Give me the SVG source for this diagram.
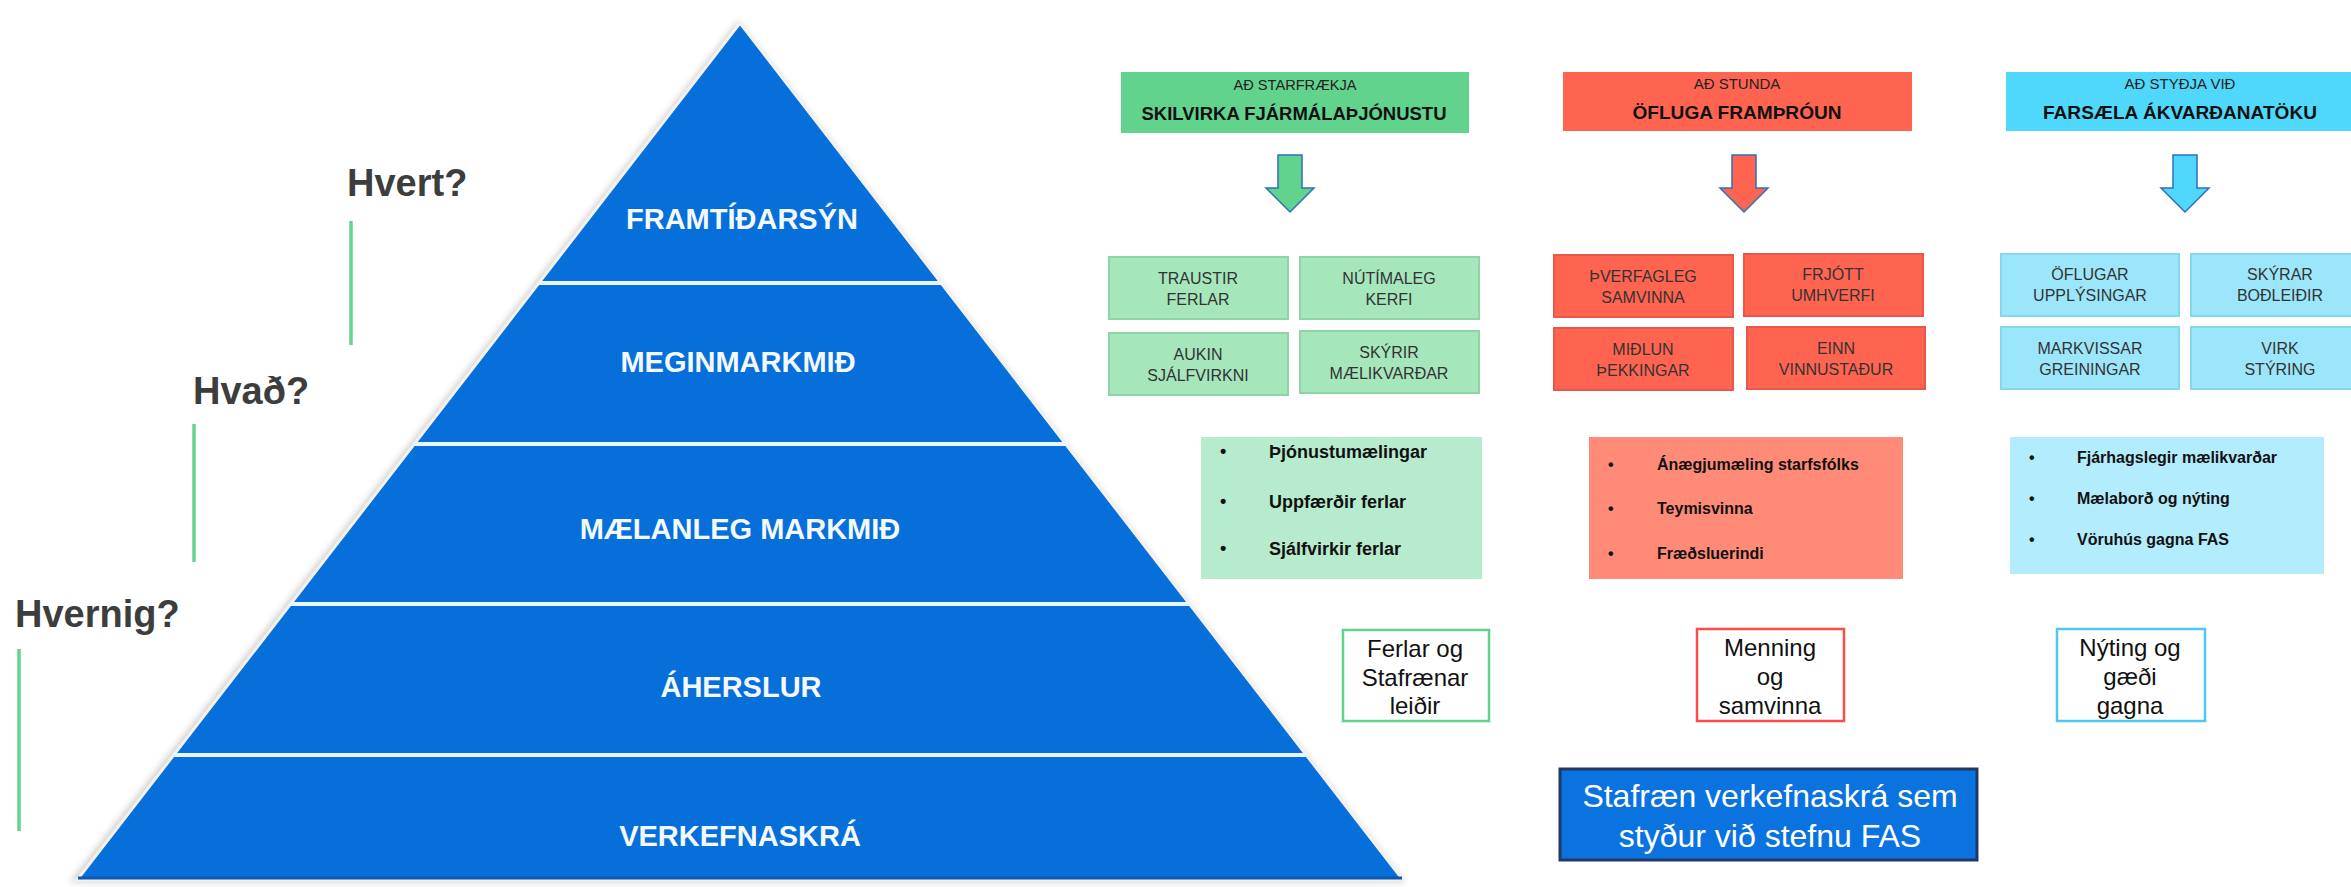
<svg xmlns="http://www.w3.org/2000/svg" width="2351" height="887" viewBox="0 0 2351 887">
<defs>
<style>
.pt{font-family:"Liberation Sans",Arial,sans-serif;font-weight:bold;font-size:29px;fill:#f4f8ff;text-anchor:middle}
.q{font-family:"Liberation Sans",Arial,sans-serif;font-weight:bold;font-size:38px;fill:#3d3d3d}
.ql{stroke:#66d48f;stroke-width:3.5}
.hs{font-family:"Liberation Sans",Arial,sans-serif;font-size:15px;fill:#222;text-anchor:middle}
.hb{font-family:"Liberation Sans",Arial,sans-serif;font-weight:bold;font-size:19px;fill:#111;text-anchor:middle}
.bt{font-family:"Liberation Sans",Arial,sans-serif;font-size:16px;fill:#333;text-anchor:middle}
.bl{font-family:"Liberation Sans",Arial,sans-serif;font-weight:bold;fill:#111}
.ot{font-family:"Liberation Sans",Arial,sans-serif;font-size:24px;fill:#111;text-anchor:middle}
.wt{font-family:"Liberation Sans",Arial,sans-serif;font-size:32px;fill:#fff;text-anchor:middle}
.sep{stroke:#e8f6ff;stroke-width:4}
.arr{stroke:#2e6fbf;stroke-width:1.5}
.gb{fill:#a5e6bb;stroke:#8fd4a6;stroke-width:2}
.rb{fill:#ff6450;stroke:#e8584a;stroke-width:2}
.cb{fill:#9be6fa;stroke:#86d6ec;stroke-width:2}
</style>
<filter id="sh" x="-5%" y="-5%" width="110%" height="110%">
<feGaussianBlur stdDeviation="3"/>
</filter>
</defs>
<rect width="2351" height="887" fill="#fff"/>

<g id="pyramid">
<polygon points="738,21 70,882 1405,882" fill="#b8b0aa" opacity="0.6" filter="url(#sh)"/>
<polygon points="740,23 77,880 1403,880" fill="#066fd9" stroke="#f2f2f2" stroke-width="3"/>
<line x1="78" y1="878" x2="1402" y2="878" stroke="#0a58b0" stroke-width="3"/>
<line class="sep" x1="539" y1="283" x2="941" y2="283"/>
<line class="sep" x1="414" y1="444" x2="1066" y2="444"/>
<line class="sep" x1="290" y1="604" x2="1190" y2="604"/>
<line class="sep" x1="174" y1="755" x2="1306" y2="755"/>
<text class="pt" x="742" y="229">FRAMTÍÐARSÝN</text>
<text class="pt" x="738" y="372">MEGINMARKMIÐ</text>
<text class="pt" x="740" y="539">MÆLANLEG MARKMIÐ</text>
<text class="pt" x="741" y="697">ÁHERSLUR</text>
<text class="pt" x="740" y="846">VERKEFNASKRÁ</text>
</g>

<g id="questions">
<text class="q" x="347" y="196">Hvert?</text>
<line class="ql" x1="351" y1="221" x2="351" y2="345"/>
<text class="q" x="193" y="404">Hvað?</text>
<line class="ql" x1="194" y1="424" x2="194" y2="562"/>
<text class="q" x="15" y="627">Hvernig?</text>
<line class="ql" x1="19" y1="649" x2="19" y2="831"/>
</g>

<g id="col-green">
<rect x="1121" y="72" width="348" height="61" fill="#62d38d"/>
<text class="hs" x="1295" y="90" textLength="123" lengthAdjust="spacingAndGlyphs">AÐ STARFRÆKJA</text>
<text class="hb" x="1294" y="120" textLength="305" lengthAdjust="spacingAndGlyphs">SKILVIRKA FJÁRMÁLAÞJÓNUSTU</text>
<polygon class="arr" fill="#62d38d" points="1278,155 1302,155 1302,188 1314,188 1290,212 1266,188 1278,188"/>
<rect class="gb" x="1109" y="257" width="179" height="62"/>
<text class="bt" x="1198" y="284">TRAUSTIR</text><text class="bt" x="1198" y="305">FERLAR</text>
<rect class="gb" x="1300" y="257" width="179" height="62"/>
<text class="bt" x="1389" y="284">NÚTÍMALEG</text><text class="bt" x="1389" y="305">KERFI</text>
<rect class="gb" x="1109" y="333" width="179" height="62"/>
<text class="bt" x="1198" y="360">AUKIN</text><text class="bt" x="1198" y="381">SJÁLFVIRKNI</text>
<rect class="gb" x="1300" y="331" width="179" height="62"/>
<text class="bt" x="1389" y="358">SKÝRIR</text><text class="bt" x="1389" y="379">MÆLIKVARÐAR</text>
<rect x="1201" y="437" width="281" height="142" fill="#b7ebce"/>
<g class="bl" font-size="18">
<text x="1220" y="457">•</text><text x="1269" y="458">Þjónustumælingar</text>
<text x="1220" y="507">•</text><text x="1269" y="508">Uppfærðir ferlar</text>
<text x="1220" y="554">•</text><text x="1269" y="555">Sjálfvirkir ferlar</text>
</g>
<rect x="1343" y="630" width="146" height="91" fill="#fff" stroke="#62d38d" stroke-width="2.5"/>
<text class="ot" x="1415" y="657">Ferlar og</text>
<text class="ot" x="1415" y="686">Stafrænar</text>
<text class="ot" x="1415" y="714">leiðir</text>
</g>

<g id="col-red">
<rect x="1563" y="72" width="349" height="59" fill="#ff6450"/>
<text class="hs" x="1737" y="89">AÐ STUNDA</text>
<text class="hb" x="1737" y="119" textLength="209" lengthAdjust="spacingAndGlyphs">ÖFLUGA FRAMÞRÓUN</text>
<polygon class="arr" fill="#ff6450" points="1732,155 1756,155 1756,188 1768,188 1744,212 1720,188 1732,188"/>
<rect class="rb" x="1554" y="255" width="179" height="62"/>
<text class="bt" x="1643" y="282">ÞVERFAGLEG</text><text class="bt" x="1643" y="303">SAMVINNA</text>
<rect class="rb" x="1744" y="254" width="179" height="62"/>
<text class="bt" x="1833" y="280">FRJÓTT</text><text class="bt" x="1833" y="301">UMHVERFI</text>
<rect class="rb" x="1554" y="328" width="179" height="62"/>
<text class="bt" x="1643" y="355">MIÐLUN</text><text class="bt" x="1643" y="376">ÞEKKINGAR</text>
<rect class="rb" x="1747" y="327" width="178" height="62"/>
<text class="bt" x="1836" y="354">EINN</text><text class="bt" x="1836" y="375">VINNUSTAÐUR</text>
<rect x="1589" y="437" width="314" height="142" fill="#ff8a78"/>
<g class="bl" font-size="16">
<text x="1608" y="470">•</text><text x="1657" y="470">Ánægjumæling starfsfólks</text>
<text x="1608" y="514">•</text><text x="1657" y="514">Teymisvinna</text>
<text x="1608" y="559">•</text><text x="1657" y="559">Fræðsluerindi</text>
</g>
<rect x="1697" y="629" width="147" height="92" fill="#fff" stroke="#ff4b4b" stroke-width="2.5"/>
<text class="ot" x="1770" y="656">Menning</text>
<text class="ot" x="1770" y="685">og</text>
<text class="ot" x="1770" y="714">samvinna</text>
</g>

<g id="col-blue">
<rect x="2006" y="72" width="345" height="59" fill="#4fd8fb"/>
<text class="hs" x="2180" y="89">AÐ STYÐJA VIÐ</text>
<text class="hb" x="2180" y="119" textLength="274" lengthAdjust="spacingAndGlyphs">FARSÆLA ÁKVARÐANATÖKU</text>
<polygon class="arr" fill="#4fd8fb" points="2173,155 2197,155 2197,188 2209,188 2185,212 2161,188 2173,188"/>
<rect class="cb" x="2001" y="254" width="178" height="62"/>
<text class="bt" x="2090" y="280">ÖFLUGAR</text><text class="bt" x="2090" y="301">UPPLÝSINGAR</text>
<rect class="cb" x="2191" y="254" width="179" height="62"/>
<text class="bt" x="2280" y="280">SKÝRAR</text><text class="bt" x="2280" y="301">BOÐLEIÐIR</text>
<rect class="cb" x="2001" y="327" width="178" height="62"/>
<text class="bt" x="2090" y="354">MARKVISSAR</text><text class="bt" x="2090" y="375">GREININGAR</text>
<rect class="cb" x="2191" y="327" width="179" height="62"/>
<text class="bt" x="2280" y="354">VIRK</text><text class="bt" x="2280" y="375">STÝRING</text>
<rect x="2010" y="437" width="314" height="137" fill="#b3ecfd"/>
<g class="bl" font-size="16">
<text x="2029" y="463">•</text><text x="2077" y="463">Fjárhagslegir mælikvarðar</text>
<text x="2029" y="504">•</text><text x="2077" y="504">Mælaborð og nýting</text>
<text x="2029" y="545">•</text><text x="2077" y="545">Vöruhús gagna FAS</text>
</g>
<rect x="2057" y="629" width="148" height="92" fill="#fff" stroke="#4fc8f0" stroke-width="2.5"/>
<text class="ot" x="2130" y="656">Nýting og</text>
<text class="ot" x="2130" y="685">gæði</text>
<text class="ot" x="2130" y="714">gagna</text>
</g>

<g id="summary">
<rect x="1560" y="769" width="417" height="91" fill="#0a73e0" stroke="#1f3864" stroke-width="3"/>
<text class="wt" x="1770" y="807">Stafræn verkefnaskrá sem</text>
<text class="wt" x="1770" y="847">styður við stefnu FAS</text>
</g>

<g id="connectors"></g>
</svg>
